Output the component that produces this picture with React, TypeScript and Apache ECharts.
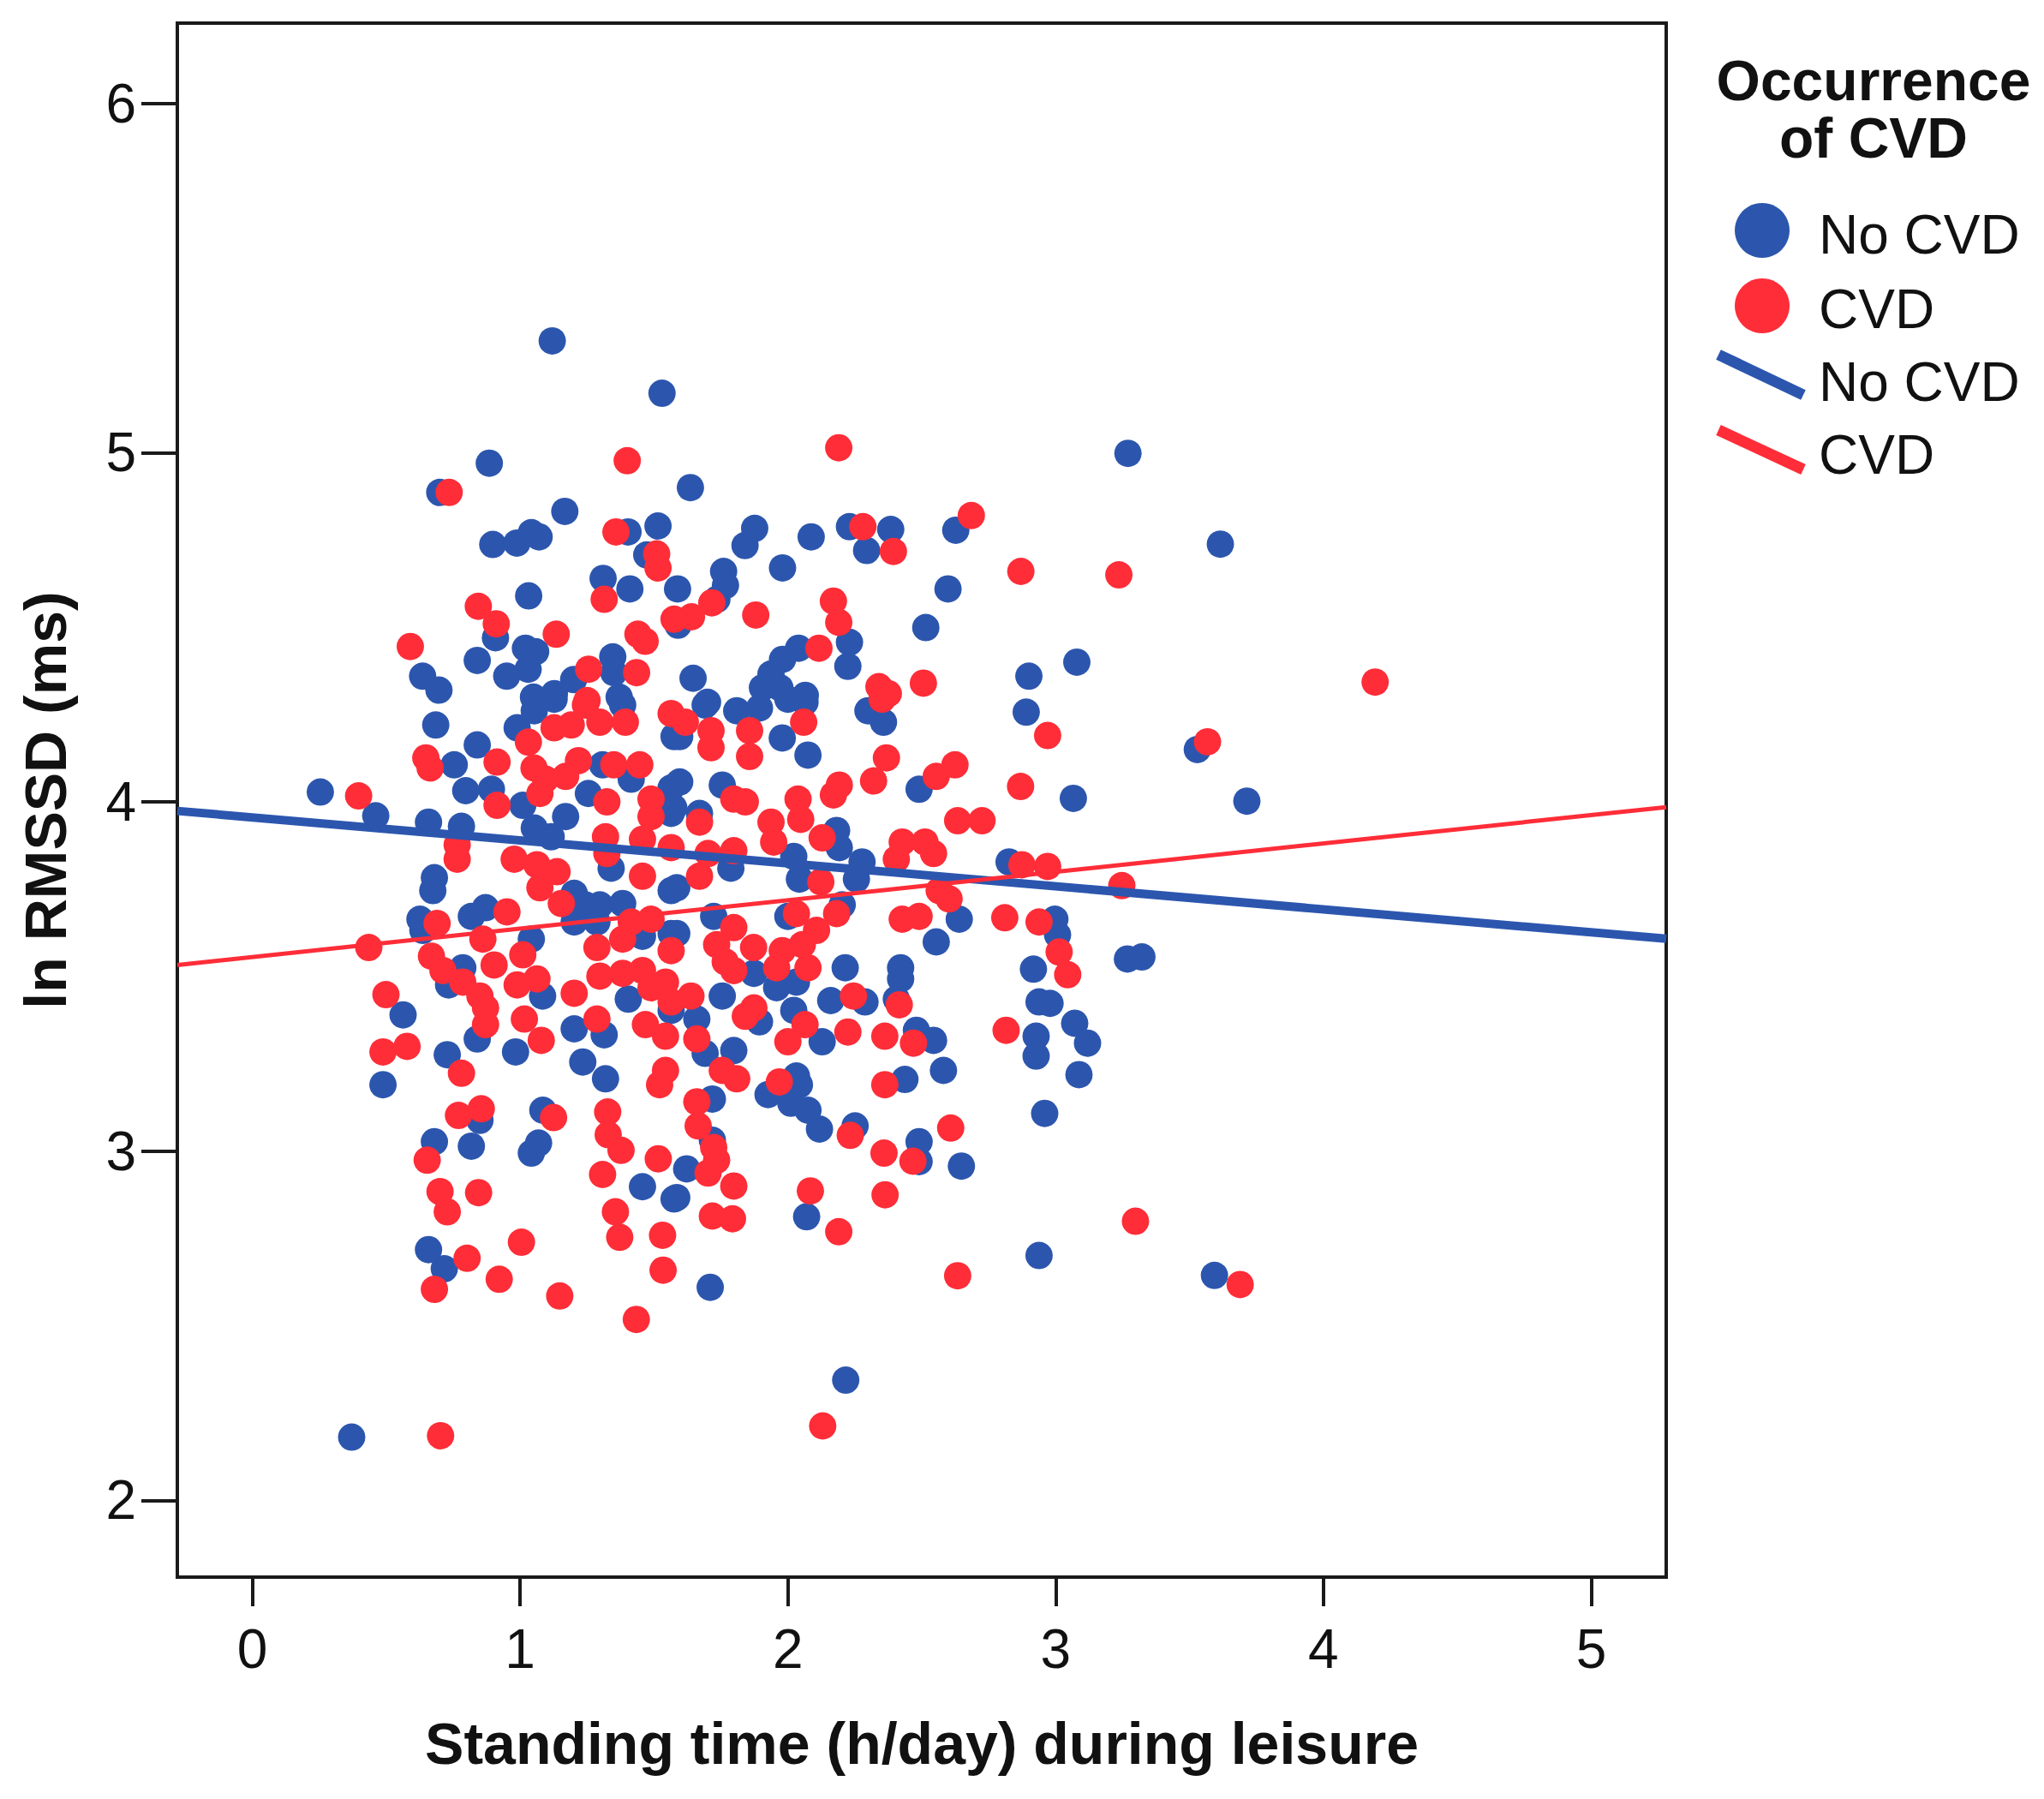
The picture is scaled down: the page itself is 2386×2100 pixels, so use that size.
import React, { useEffect, useRef } from "react";
import * as echarts from "echarts";

const xTicks = [0, 1, 2, 3, 4, 5];
const yTicks = [2, 3, 4, 5, 6];
const xRange = [-0.28, 5.28];
const yRange = [1.78, 6.23];

const noCvdPoints = [
  [1.12,5.32],[1.53,5.17],[0.885,4.97],[0.70,4.886],[1.167,4.832],[0.898,4.737],[0.988,4.741],[1.042,4.771],[1.071,4.759],[1.403,4.773],[1.515,4.79],[1.473,4.707],[1.31,4.64],[1.41,4.61],[1.032,4.59],[0.908,4.47],[0.84,4.405],[1.02,4.44],[1.058,4.43],[1.03,4.38],[0.95,4.36],[0.636,4.36],[0.697,4.32],[1.346,4.415],[1.35,4.37],[1.05,4.30],[1.128,4.31],[1.20,4.35],[1.37,4.30],
  [1.636,4.90],[1.588,4.61],[1.876,4.783],[1.84,4.734],[2.087,4.759],[2.23,4.788],[2.384,4.78],[2.294,4.72],[2.627,4.778],[2.598,4.61],[2.515,4.499],[1.76,4.66],[1.767,4.62],[1.735,4.58],[1.59,4.506],[1.98,4.67],[2.23,4.457],[2.224,4.388],[2.04,4.44],[1.98,4.408],[1.937,4.366],[1.905,4.327],[1.97,4.327],[2.065,4.305],[1.646,4.354],[1.70,4.285],[2.9,4.36],
  [0.685,4.22],[0.84,4.163],[0.754,4.106],[0.797,4.032],[0.254,4.028],[0.461,3.96],[0.658,3.942],[0.781,3.93],[0.893,4.036],[0.989,4.212],[1.053,4.261],[1.127,4.294],[1.383,4.277],[1.575,4.187],[1.01,3.99],[1.17,3.958],[1.116,3.90],[1.053,3.925],[1.255,4.024],[1.308,4.106],[1.415,4.065],[1.564,4.04],[1.564,3.967],[1.34,3.81],[0.68,3.783],[0.674,3.746],[1.244,3.705],[1.298,3.705],[1.383,3.709],[1.202,3.738],[1.564,3.746],[0.818,3.672],[0.871,3.697],[0.626,3.664],[0.637,3.632],[0.786,3.525],[0.733,3.476],[1.042,3.607],[1.084,3.444],[1.202,3.656],[1.287,3.656],[1.457,3.615],[1.564,3.623],[1.404,3.435],[1.202,3.35],[1.314,3.333],[1.564,3.403],[0.563,3.39],[0.728,3.276],[0.84,3.321],[0.983,3.284],[1.234,3.255],[1.319,3.207],[0.488,3.19],
  [1.691,4.277],[1.809,4.261],[1.894,4.269],[2.0,4.294],[2.064,4.285],[1.596,4.187],[1.979,4.183],[2.075,4.134],[2.299,4.261],[2.357,4.228],[2.89,4.257],[2.49,4.036],[1.596,4.057],[1.574,3.983],[1.755,4.048],[1.67,3.967],[2.182,3.918],[2.192,3.869],[1.787,3.81],[1.585,3.754],[2.022,3.844],[2.043,3.779],[2.277,3.828],[2.256,3.779],[2.826,3.828],[2.64,3.664],[2.554,3.599],[2.0,3.672],[2.203,3.705],[1.723,3.672],[1.585,3.623],[1.873,3.509],[1.958,3.468],[2.032,3.484],[2.214,3.525],[2.421,3.525],[2.421,3.493],[1.755,3.444],[1.66,3.378],[1.894,3.37],[2.022,3.403],[2.16,3.431],[2.288,3.427],[2.405,3.435],[2.128,3.313],[2.48,3.346],[2.544,3.317],[2.917,3.521],[2.938,3.427],[2.927,3.329],[2.927,3.272],[1.798,3.288],[1.691,3.28],[2.032,3.215],[2.437,3.205],[2.581,3.231],
  [0.85,3.088],[1.085,3.117],[0.68,3.027],[0.818,3.014],[1.069,3.023],[1.042,2.994],[1.457,2.898],[1.575,2.863],[0.658,2.718],[0.717,2.663],[0.371,2.181],
  [1.718,3.149],[1.718,3.031],[1.622,2.949],[1.585,2.867],[1.71,2.61],[1.926,3.162],[2.043,3.19],[2.011,3.137],[2.075,3.117],[2.118,3.063],[2.251,3.072],[2.49,3.027],[2.49,2.97],[2.648,2.957],[2.959,3.108],[2.07,2.812],[2.938,2.701],[2.216,2.344],
  [3.27,4.998],[3.615,4.738],[3.079,4.40],[3.529,4.15],[3.066,4.01],[3.714,4.002],
  [2.997,3.664],[3.007,3.619],[3.268,3.55],[3.322,3.556],[2.979,3.423],[3.071,3.366],[3.119,3.309],[3.087,3.219],[3.593,2.644]
];

const cvdPoints = [
  [0.735,4.886],[1.40,4.977],[1.358,4.773],[1.51,4.71],[1.515,4.67],[1.314,4.58],[0.844,4.56],[0.911,4.51],[1.135,4.48],[0.59,4.445],[1.44,4.48],[1.467,4.46],[1.256,4.38],[1.435,4.37],[1.25,4.29],
  [2.19,5.014],[2.28,4.788],[2.394,4.717],[2.685,4.82],[2.87,4.66],[1.716,4.57],[1.575,4.523],[1.64,4.53],[1.88,4.535],[2.17,4.575],[2.19,4.514],[2.116,4.44],[2.34,4.33],[2.375,4.31],[2.506,4.34],
  [0.648,4.126],[0.664,4.097],[0.397,4.017],[0.914,4.114],[0.914,3.99],[1.244,4.277],[1.127,4.212],[1.031,4.171],[1.191,4.22],[1.298,4.228],[1.393,4.228],[1.564,4.253],[1.052,4.097],[1.095,4.065],[1.17,4.073],[1.218,4.118],[1.074,4.024],[1.324,4.0],[1.35,4.106],[1.447,4.106],[1.489,4.008],[1.489,3.958],[1.319,3.90],[1.324,3.852],[1.457,3.893],[1.564,3.869],[1.457,3.787],[0.765,3.877],[0.765,3.836],[0.978,3.836],[1.063,3.82],[1.138,3.80],[1.074,3.754],[1.154,3.709],[0.951,3.685],[0.69,3.652],[0.435,3.583],[0.861,3.607],[0.669,3.558],[0.712,3.517],[0.786,3.484],[0.85,3.444],[0.871,3.41],[0.903,3.533],[1.01,3.562],[0.989,3.476],[1.063,3.493],[1.287,3.583],[1.383,3.607],[1.415,3.656],[1.489,3.664],[1.564,3.574],[1.202,3.452],[1.298,3.501],[1.383,3.509],[1.457,3.517],[1.489,3.468],[1.543,3.484],[1.564,3.427],[1.287,3.378],[1.468,3.362],[1.543,3.329],[0.499,3.448],[0.488,3.284],[0.578,3.3],[0.781,3.223],[0.871,3.362],[1.016,3.378],[1.079,3.317],[1.543,3.231],[1.521,3.19],
  [1.713,4.204],[1.713,4.155],[1.617,4.228],[1.857,4.204],[1.857,4.13],[2.059,4.228],[2.352,4.294],[2.97,4.19],[2.368,4.126],[2.32,4.06],[2.192,4.048],[2.17,4.02],[2.554,4.073],[2.624,4.106],[2.869,4.044],[2.634,3.946],[2.725,3.946],[1.798,4.008],[1.841,4.0],[1.67,3.942],[1.937,3.942],[1.947,3.885],[2.038,4.008],[2.048,3.95],[2.128,3.897],[1.702,3.852],[1.798,3.86],[1.67,3.787],[2.123,3.771],[2.427,3.885],[2.512,3.885],[2.405,3.836],[2.544,3.852],[2.874,3.82],[2.97,3.815],[2.565,3.746],[2.602,3.722],[2.427,3.664],[2.49,3.672],[2.81,3.668],[2.938,3.656],[2.032,3.68],[2.182,3.68],[2.107,3.632],[1.798,3.64],[1.734,3.591],[1.766,3.542],[1.798,3.517],[1.872,3.583],[1.979,3.574],[1.958,3.525],[2.054,3.591],[2.075,3.525],[1.638,3.444],[1.873,3.41],[1.841,3.386],[2.245,3.444],[2.416,3.419],[2.064,3.362],[2.0,3.313],[2.224,3.341],[2.362,3.329],[2.469,3.309],[2.815,3.346],[1.66,3.321],[1.755,3.231],[1.809,3.207],[1.968,3.198],[2.362,3.19],
  [0.77,3.102],[0.855,3.121],[1.125,3.096],[0.653,2.974],[1.327,3.112],[1.329,3.047],[1.377,3.002],[1.516,2.978],[1.308,2.933],[0.701,2.884],[0.728,2.826],[0.845,2.881],[1.356,2.826],[1.372,2.753],[1.532,2.759],[1.534,2.659],[0.802,2.693],[0.68,2.604],[0.922,2.633],[1.005,2.739],[1.148,2.585],[1.434,2.518],[0.703,2.185],
  [1.66,3.141],[1.665,3.072],[1.723,3.01],[1.734,2.974],[1.702,2.937],[1.798,2.90],[1.718,2.814],[1.793,2.806],[2.233,3.045],[2.608,3.066],[2.467,2.971],[2.359,2.994],[2.363,2.875],[2.084,2.886],[2.19,2.769],[2.634,2.643],[2.13,2.213],
  [3.236,4.65],[4.193,4.343],[3.567,4.172],[3.247,3.76],
  [3.013,3.57],[3.045,3.505],[3.298,2.799],[3.689,2.618]
];

const fitNoCvd = [[-0.28, 3.974], [5.28, 3.608]];
const fitCvd = [[-0.28, 3.533], [5.28, 3.985]];

const legendTitleLines = ["Occurrence", "of CVD"];
const legendLabels = ["No CVD", "CVD", "No CVD", "CVD"];

const BLUE = "#2c56ae";
const RED = "#fe2d38";
const INK = "#111111";
const FONT = '"Liberation Sans", Arial, Helvetica, sans-serif';

export default function App() {
  const ref = useRef<HTMLDivElement>(null);

  useEffect(() => {
    if (!ref.current) return;
    const chart = echarts.init(ref.current, null, { renderer: "svg" });
    const textFont = `64px ${FONT}`;
    const legendX = 2123;
    const rows = [274, 361, 446, 531];
    const titleRows = [94, 161];
    const axisLineStyle = { color: "#1a1a1a", width: 4 };
    chart.setOption({
      animation: false,
      backgroundColor: "#ffffff",
      grid: {
        left: 207,
        top: 27,
        width: 1738,
        height: 1814,
        containLabel: false,
        outerBoundsMode: "none",
        show: true,
        borderColor: "#1a1a1a",
        borderWidth: 4,
        backgroundColor: "transparent",
      },
      xAxis: {
        type: "value",
        min: xRange[0],
        max: xRange[1],
        name: "Standing time (h/day) during leisure",
        nameLocation: "middle",
        nameGap: 160,
        nameTextStyle: { fontSize: 68, fontWeight: "bold", color: INK, fontFamily: FONT },
        splitLine: { show: false },
        axisLine: { show: true, onZero: false, lineStyle: axisLineStyle },
        axisTick: {
          show: true,
          inside: false,
          length: 34,
          lineStyle: axisLineStyle,
          customValues: xTicks,
        },
        axisLabel: {
          fontSize: 64,
          color: INK,
          fontFamily: FONT,
          margin: 52,
          customValues: xTicks,
        },
      },
      yAxis: {
        type: "value",
        min: yRange[0],
        max: yRange[1],
        name: "ln RMSSD (ms)",
        nameLocation: "middle",
        nameGap: 120,
        nameTextStyle: { fontSize: 68, fontWeight: "bold", color: INK, fontFamily: FONT },
        splitLine: { show: false },
        axisLine: { show: true, onZero: false, lineStyle: axisLineStyle },
        axisTick: {
          show: true,
          inside: false,
          length: 42,
          lineStyle: axisLineStyle,
          customValues: yTicks,
        },
        axisLabel: {
          fontSize: 64,
          color: INK,
          fontFamily: FONT,
          margin: 48,
          customValues: yTicks,
        },
      },
      series: [
        {
          type: "scatter",
          name: "No CVD points",
          data: noCvdPoints,
          symbol: "circle",
          symbolSize: 32,
          itemStyle: { color: BLUE, opacity: 1 },
          z: 2,
        },
        {
          type: "scatter",
          name: "CVD points",
          data: cvdPoints,
          symbol: "circle",
          symbolSize: 32,
          itemStyle: { color: RED, opacity: 1 },
          z: 3,
        },
        {
          type: "line",
          name: "No CVD fit",
          data: fitNoCvd,
          showSymbol: false,
          symbol: "none",
          lineStyle: { color: BLUE, width: 10 },
          z: 5,
        },
        {
          type: "line",
          name: "CVD fit",
          data: fitCvd,
          showSymbol: false,
          symbol: "none",
          lineStyle: { color: RED, width: 5 },
          z: 6,
        },
      ],
      graphic: [
        ...legendTitleLines.map((t, i) => ({
          type: "text",
          x: 2187,
          y: titleRows[i],
          style: {
            text: t,
            font: `bold 66px ${FONT}`,
            fill: INK,
            align: "center",
            verticalAlign: "middle",
          },
        })),
        { type: "circle", shape: { cx: 2057, cy: 269, r: 32 }, style: { fill: BLUE } },
        { type: "circle", shape: { cx: 2057, cy: 357, r: 32 }, style: { fill: RED } },
        {
          type: "line",
          shape: { x1: 2006, y1: 414, x2: 2105, y2: 461 },
          style: { stroke: BLUE, lineWidth: 13 },
        },
        {
          type: "line",
          shape: { x1: 2006, y1: 502, x2: 2105, y2: 548 },
          style: { stroke: RED, lineWidth: 13 },
        },
        ...legendLabels.map((t, i) => ({
          type: "text",
          x: legendX,
          y: rows[i],
          style: { text: t, font: textFont, fill: INK, align: "left", verticalAlign: "middle" },
        })),
      ],
    });
    return () => chart.dispose();
  }, []);

  return (
    <div
      ref={ref}
      style={{ position: "absolute", left: 0, top: 0, width: 2386, height: 2100 }}
    />
  );
}
